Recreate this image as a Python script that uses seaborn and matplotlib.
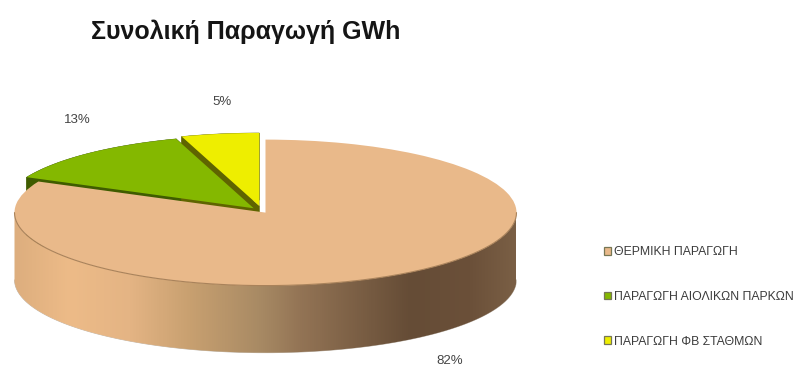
import numpy as np
import matplotlib
matplotlib.use("Agg")
import matplotlib.pyplot as plt
from matplotlib.colors import LinearSegmentedColormap
from matplotlib.patches import Polygon, PathPatch
from matplotlib.path import Path
import seaborn as sns

# Chart content
title = "Συνολική Παραγωγή GWh"
categories = ["ΘΕΡΜΙΚΗ ΠΑΡΑΓΩΓΗ", "ΠΑΡΑΓΩΓΗ ΑΙΟΛΙΚΩΝ ΠΑΡΚΩΝ", "ΠΑΡΑΓΩΓΗ ΦΒ ΣΤΑΘΜΩΝ"]
shares = [82, 13, 5]

# Styling
top_colors = sns.color_palette(["#E9B98A", "#84B800", "#EEEE00"])
side_colors = ["#C9A070", "#3F5C00", "#5F6400"]
offsets = [0.026, 0.05, 0.07]
depth = 0.92
band_stops = [(0.0, "#DDAE7E"), (0.11, "#EDBB88"), (0.23, "#E4B484"), (0.35, "#C8A070"),
              (0.49, "#A88A64"), (0.57, "#937455"), (0.79, "#654C36"), (0.91, "#6B5039"),
              (1.0, "#7A5F45")]

sns.set_theme(style="white")
plt.rcParams["font.family"] = ["Liberation Sans", "DejaVu Sans"]

W, H = 797, 367
cx, cy, rx, ry = 262, 211, 251, 73

fig = plt.figure(figsize=(W / 100, H / 100), dpi=100, facecolor="white")
ax = fig.add_axes([0, 0, 1, 1])

wedges, _ = ax.pie(shares, startangle=90, counterclock=False, explode=offsets,
                   colors=top_colors, wedgeprops={"linewidth": 0})
ax.set_aspect("auto")
ax.axis("off")


def arc_points(w, start=None, stop=None):
    t = np.radians(np.linspace(w.theta1 if start is None else start,
                               w.theta2 if stop is None else stop, 160))
    return np.column_stack([w.center[0] + w.r * np.cos(t), w.center[1] + w.r * np.sin(t)])


def swept_face(points):
    return np.vstack([points, points[::-1] - [0, depth]])


# Side walls of the two smaller slices sit behind every top face
for w, color in zip(wedges[1:], side_colors[1:]):
    apex = np.array(w.center)
    arc = arc_points(w)
    for face in (arc, np.vstack([apex, arc[0]]), np.vstack([apex, arc[-1]])):
        ax.add_patch(Polygon(swept_face(face), closed=True, fc=color, ec=color, lw=0.3, zorder=1))

thermal, wind, solar = wedges
solar.set_zorder(2)
wind.set_zorder(3)

# Shaded rim along the front half of the large slice
rim = swept_face(arc_points(thermal, -180, 0))
rim_patch = PathPatch(Path(np.vstack([rim, rim[0]])), transform=ax.transData, fc="none", lw=0)
ax.add_patch(rim_patch)
x0, x1 = thermal.center[0] - 1, thermal.center[0] + 1
y0, y1 = thermal.center[1] - 1 - depth, thermal.center[1] + 0.1
shade = LinearSegmentedColormap.from_list("rim", band_stops)
img = ax.imshow(np.linspace(0, 1, 512)[None, :], cmap=shade, extent=[x0, x1, y0, y1],
                aspect="auto", zorder=4)
img.set_clip_path(rim_patch)
ax.set_xlim(-cx / rx, (W - cx) / rx)
ax.set_ylim((cy - H) / ry, cy / ry)
thermal.set_zorder(5)

# Fine darker line where the top face meets the rim
front = arc_points(thermal, -180, 0)
ax.plot(front[:, 0], front[:, 1], color="#A9825A", lw=0.8, zorder=6)
ax.plot(front[:, 0], front[:, 1] - depth, color="#B9B0A4", lw=0.5, zorder=3)

# Percentage labels
label_positions = [(450, 361), (77, 120), (222, 102)]
for share, (px, py) in zip(shares, label_positions):
    fig.text(px / W, 1 - py / H, f"{share}%", ha="center", va="center", fontsize=9.5, color="#444444")

fig.text(91 / W, 1 - 32 / H, title, ha="left", va="center", fontsize=18, fontweight="bold", color="#151515")

# Legend column with small bordered swatches
handles = [plt.Rectangle((0, 0), 1, 1, fc=c, ec="#777755", lw=0.9) for c in top_colors]
fig.legend(handles, categories, loc="upper left", bbox_to_anchor=(593 / W, 1 - 235 / H),
           frameon=False, fontsize=8.8, handlelength=0.6, handleheight=0.6,
           handletextpad=0.18, labelspacing=2.68, labelcolor="#3c3c3c", borderpad=0.4)

fig.savefig("out.png", dpi=100)
